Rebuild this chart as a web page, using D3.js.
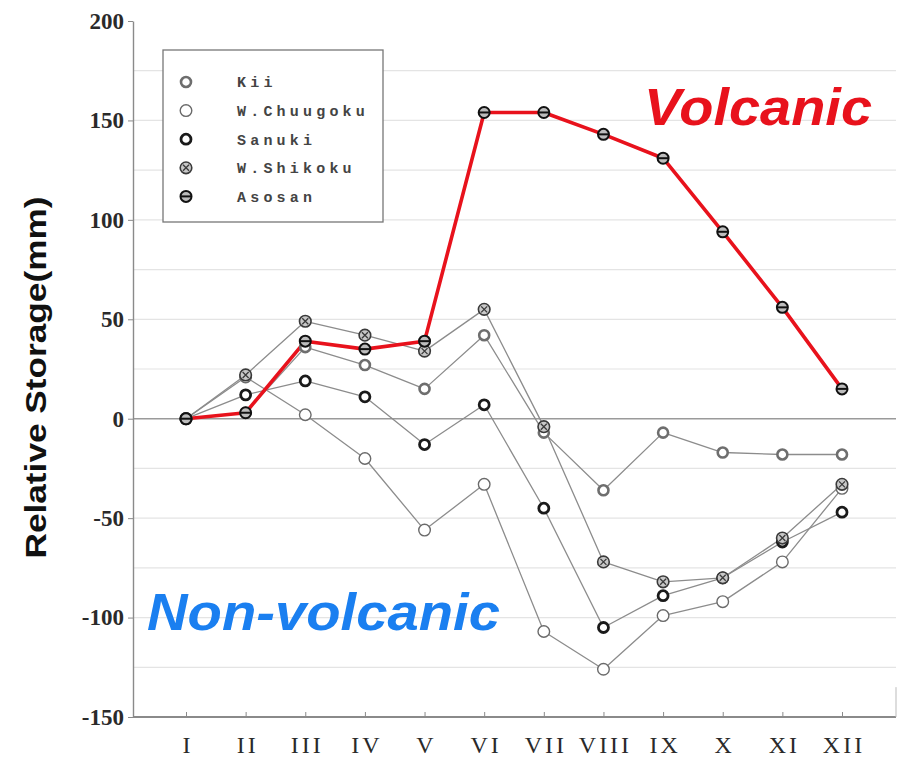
<!DOCTYPE html>
<html>
<head>
<meta charset="utf-8">
<script src="https://cdn.jsdelivr.net/npm/d3@7"></script>
<style>
  html, body { margin: 0; padding: 0; background: #fff; }
  svg { display: block; }
</style>
</head>
<body>
<svg id="chart" width="898" height="761"></svg>
<script>
// Monthly relative storage (mm) for five catchments
const months = ["I", "II", "III", "IV", "V", "VI", "VII", "VIII", "IX", "X", "XI", "XII"];
const kii       = [0, 3, 36, 27, 15, 42, -7, -36, -7, -17, -18, -18];
const chuugoku  = [0, 21, 2, -20, -56, -33, -107, -126, -99, -92, -72, -35];
const sanuki    = [0, 12, 19, 11, -13, 7, -45, -105, -89, -80, -62, -47];
const shikoku   = [0, 22, 49, 42, 34, 55, -4, -72, -82, -80, -60, -33];
const asosan    = [0, 3, 39, 35, 39, 154, 154, 143, 131, 94, 56, 15];
const seriesNames = ["Kii", "W.Chuugoku", "Sanuki", "W.Shikoku", "Asosan"];
const yTicks = [-150, -100, -50, 0, 50, 100, 150, 200];
const yGrid  = [-125, -100, -75, -50, -25, 25, 50, 75, 100, 125, 150, 175];

const series = [
  { name: "Kii",        values: kii,      marker: "ringGrey" },
  { name: "W.Chuugoku", values: chuugoku, marker: "open" },
  { name: "Sanuki",     values: sanuki,   marker: "ringDark" },
  { name: "W.Shikoku",  values: shikoku,  marker: "cross" },
  { name: "Asosan",     values: asosan,   marker: "bar" }
];

const svg = d3.select("#chart");
const plot = { left: 133, right: 896, top: 21, bottom: 717 };

const x = d3.scalePoint().domain(months).range([186, 842]);
const y = d3.scaleLinear().domain([-150, 200]).range([plot.bottom, plot.top]);

// light horizontal grid
svg.append("g").selectAll("line").data(yGrid).join("line")
  .attr("x1", plot.left).attr("x2", plot.right)
  .attr("y1", d => y(d)).attr("y2", d => y(d))
  .attr("stroke", "#e4e4e4").attr("stroke-width", 1.2);

// zero line
svg.append("line")
  .attr("x1", plot.left).attr("x2", plot.right)
  .attr("y1", y(0)).attr("y2", y(0))
  .attr("stroke", "#9a9a9a").attr("stroke-width", 1.4);

// y axis
const yAxis = svg.append("g")
  .attr("transform", `translate(${plot.left},0)`)
  .call(d3.axisLeft(y).tickValues(yTicks).tickSize(5).tickSizeOuter(0).tickFormat(d => String(d)));
yAxis.select(".domain").attr("stroke", "#8a8a8a").attr("stroke-width", 1.4);
yAxis.selectAll(".tick line").attr("stroke", "#8a8a8a");
yAxis.selectAll(".tick text")
  .attr("x", -9)
  .attr("font-family", "'Liberation Serif', 'DejaVu Serif', serif")
  .attr("font-size", 23)
  .attr("font-weight", 600)
  .attr("fill", "#2a2a2a");

// x axis
const xAxis = svg.append("g")
  .attr("transform", `translate(0,${plot.bottom})`)
  .call(d3.axisBottom(x).tickSize(-5).tickSizeOuter(0));
xAxis.select(".domain").remove();
xAxis.append("line")
  .attr("x1", plot.left).attr("x2", plot.right)
  .attr("y1", 0).attr("y2", 0)
  .attr("stroke", "#8a8a8a").attr("stroke-width", 2);
xAxis.selectAll(".tick line").attr("stroke", "#8a8a8a");
xAxis.selectAll(".tick text")
  .attr("y", 36)
  .attr("dy", 0)
  .attr("dx", 1.5)
  .attr("font-family", "'Liberation Serif', 'DejaVu Serif', serif")
  .attr("font-size", 24)
  .attr("letter-spacing", 3)
  .attr("fill", "#2a2a2a");

// right frame edge
svg.append("line")
  .attr("x1", plot.right).attr("x2", plot.right)
  .attr("y1", y(-135)).attr("y2", plot.bottom)
  .attr("stroke", "#bbb").attr("stroke-width", 1);

// y axis title
svg.append("text")
  .attr("transform", `translate(46,${(195 + 560) / 2}) rotate(-90)`)
  .attr("text-anchor", "middle")
  .attr("font-family", "'Liberation Sans', Arial, sans-serif")
  .attr("font-weight", "bold")
  .attr("font-size", 29)
  .attr("textLength", 362)
  .attr("lengthAdjust", "spacingAndGlyphs")
  .attr("fill", "#111")
  .text("Relative Storage(mm)");

// series lines
const line = d3.line().x((d, i) => x(months[i])).y(d => y(d));
series.forEach(s => {
  const volcanic = s.name === "Asosan";
  svg.append("path")
    .datum(s.values)
    .attr("d", line)
    .attr("fill", "none")
    .attr("stroke", volcanic ? "#e8121c" : "#8c8c8c")
    .attr("stroke-width", volcanic ? 3.6 : 1.3)
    .attr("stroke-linejoin", "round");
});

// marker shapes
function drawMarker(g, type) {
  if (type === "ringGrey") {
    g.append("circle").attr("r", 5).attr("fill", "#fff").attr("stroke", "#6e6e6e").attr("stroke-width", 2.6);
  } else if (type === "open") {
    g.append("circle").attr("r", 5.8).attr("fill", "#fff").attr("stroke", "#6a6a6a").attr("stroke-width", 1.4);
  } else if (type === "ringDark") {
    g.append("circle").attr("r", 5).attr("fill", "#fff").attr("stroke", "#1a1a1a").attr("stroke-width", 2.8);
  } else if (type === "cross") {
    g.append("circle").attr("r", 5.8).attr("fill", "#c8c8c8").attr("stroke", "#3a3a3a").attr("stroke-width", 1.6);
    g.append("path").attr("d", "M-3,-3L3,3M-3,3L3,-3").attr("stroke", "#3a3a3a").attr("stroke-width", 1.3);
  } else if (type === "bar") {
    g.append("circle").attr("r", 5.5).attr("fill", "#bdbdbd").attr("stroke", "#111").attr("stroke-width", 2);
    g.append("path").attr("d", "M-5.5,0L5.5,0").attr("stroke", "#111").attr("stroke-width", 2);
  }
}

series.forEach(s => {
  s.values.forEach((v, i) => {
    const g = svg.append("g").attr("transform", `translate(${x(months[i])},${y(v)})`);
    drawMarker(g, s.marker);
  });
});

// legend
const legend = svg.append("g").attr("transform", "translate(163,50)");
legend.append("rect")
  .attr("width", 220).attr("height", 172)
  .attr("fill", "#fff").attr("stroke", "#777").attr("stroke-width", 1.3);
seriesNames.forEach((name, i) => {
  const s = series.find(d => d.name === name);
  const row = legend.append("g").attr("transform", `translate(23,${32 + i * 28.6})`);
  drawMarker(row, s.marker);
  row.append("text")
    .attr("x", 51).attr("dy", "0.36em")
    .attr("font-family", "'Liberation Mono', 'DejaVu Sans Mono', monospace")
    .attr("font-size", 15)
    .attr("font-weight", "bold")
    .attr("letter-spacing", 4.2)
    .attr("fill", "#444")
    .text(name);
});

// group labels
svg.append("text")
  .attr("x", 644).attr("y", 125)
  .attr("font-family", "'Liberation Sans', Arial, sans-serif")
  .attr("font-weight", "bold").attr("font-style", "italic")
  .attr("font-size", 52)
  .attr("textLength", 228).attr("lengthAdjust", "spacingAndGlyphs")
  .attr("fill", "#e8121c")
  .text("Volcanic");

svg.append("text")
  .attr("x", 147).attr("y", 630)
  .attr("font-family", "'Liberation Sans', Arial, sans-serif")
  .attr("font-weight", "bold").attr("font-style", "italic")
  .attr("font-size", 52)
  .attr("textLength", 353).attr("lengthAdjust", "spacingAndGlyphs")
  .attr("fill", "#1a7ff0")
  .text("Non-volcanic");
</script>
</body>
</html>
